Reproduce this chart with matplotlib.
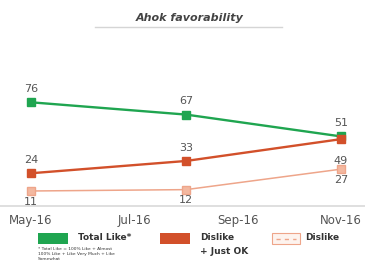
"""
Ahok favorability line chart.
"""
import matplotlib
matplotlib.use('Agg')
import matplotlib.pyplot as plt
from matplotlib.patches import Rectangle

# data
months = [0, 3, 6]                 # May-16, Aug-16, Nov-16
tick_pos = [0, 2, 4, 6]
tick_labels = ['May-16', 'Jul-16', 'Sep-16', 'Nov-16']
total_like = [76, 67, 51]
dislike_ok = [24, 33, 49]
dislike = [11, 12, 27]

GREEN = '#1fa550'
ORANGE = '#d2502a'
LIGHT = '#eea58a'
GREY = '#555555'

fig = plt.figure(figsize=(3.65, 2.79), dpi=100)
ax = fig.add_axes([0.0, 1 - 206 / 279, 1.0, (206 - 60) / 279])

ax.plot(months, total_like, color=GREEN, lw=1.7, marker='s', ms=6, zorder=3)
ax.plot(months, dislike_ok, color=ORANGE, lw=1.7, marker='s', ms=6, zorder=3)
ax.plot(months, dislike, color=LIGHT, lw=1.1, marker='s', ms=6,
        markerfacecolor='#f3b8a0', zorder=2)

# value labels (above / below like in the original)
for x, v in zip(months, total_like):
    ax.annotate(str(v), (x, v), xytext=(0, 6), textcoords='offset points',
                ha='center', va='bottom', fontsize=8, color=GREY)
for x, v, off in zip(months, dislike_ok, [6, 6, -12]):
    ax.annotate(str(v), (x, v), xytext=(0, off), textcoords='offset points',
                ha='center', va='bottom' if off > 0 else 'top',
                fontsize=8, color=GREY)
for x, v in zip(months, dislike):
    ax.annotate(str(v), (x, v), xytext=(0, -4), textcoords='offset points',
                ha='center', va='top', fontsize=8, color=GREY)

# x scale: 0 -> 31px, 6 -> 341px on a 365px wide axes
ppm = (341 - 31) / 6
ax.set_xlim(-31 / ppm, 6 + (365 - 341) / ppm)
ax.set_ylim(0, 107)
ax.set_xticks(tick_pos)
ax.set_xticklabels(tick_labels, fontsize=8.5, color=GREY)
ax.tick_params(axis='x', length=0, pad=6)
ax.set_yticks([])
for s in ['top', 'right', 'left']:
    ax.spines[s].set_visible(False)
ax.spines['bottom'].set_color('#d9d9d9')
ax.spines['bottom'].set_linewidth(1.2)

# title with underline
fig.text(0.52, 1 - 18 / 279, 'Ahok favorability', ha='center', va='center',
         fontsize=8, style='italic', fontweight='bold', color='#444444')
fig.add_artist(plt.Line2D([95 / 365, 282 / 365], [1 - 27 / 279] * 2,
                          color='#d5d5d5', lw=1))

# legend drawn by hand
def fx(px):
    return px / 365


def fy(py):
    return 1 - py / 279


fig.add_artist(Rectangle((fx(38), fy(244)), fx(30), 11 / 279,
                         color=GREEN, lw=0))
fig.text(fx(78), fy(238), 'Total Like*', fontsize=6.5, color='#333333',
         va='center', fontweight='bold')
fig.text(fx(38), fy(247),
         '* Total Like = 100% Like + Almost\n100% Like + Like Very Much + Like\nSomewhat',
         fontsize=3.2, color='#333333', va='top', linespacing=1.3)

fig.add_artist(Rectangle((fx(160), fy(244)), fx(30), 11 / 279,
                         color=ORANGE, lw=0))
fig.text(fx(200), fy(238), 'Dislike', fontsize=6.5, color='#333333',
         va='center', fontweight='bold')
fig.text(fx(200), fy(251), '+ Just OK', fontsize=6.5, color='#333333',
         va='center', fontweight='bold')

fig.add_artist(Rectangle((fx(272), fy(244)), fx(28), 11 / 279,
                         facecolor='#fdf3ee', edgecolor=LIGHT, lw=0.8))
fig.add_artist(plt.Line2D([fx(276), fx(296)], [fy(238.5)] * 2,
                          color=LIGHT, lw=1, ls=(0, (3, 3))))
fig.text(fx(305), fy(238), 'Dislike', fontsize=6.5, color='#333333',
         va='center', fontweight='bold')

fig.savefig('out.png', dpi=100)
